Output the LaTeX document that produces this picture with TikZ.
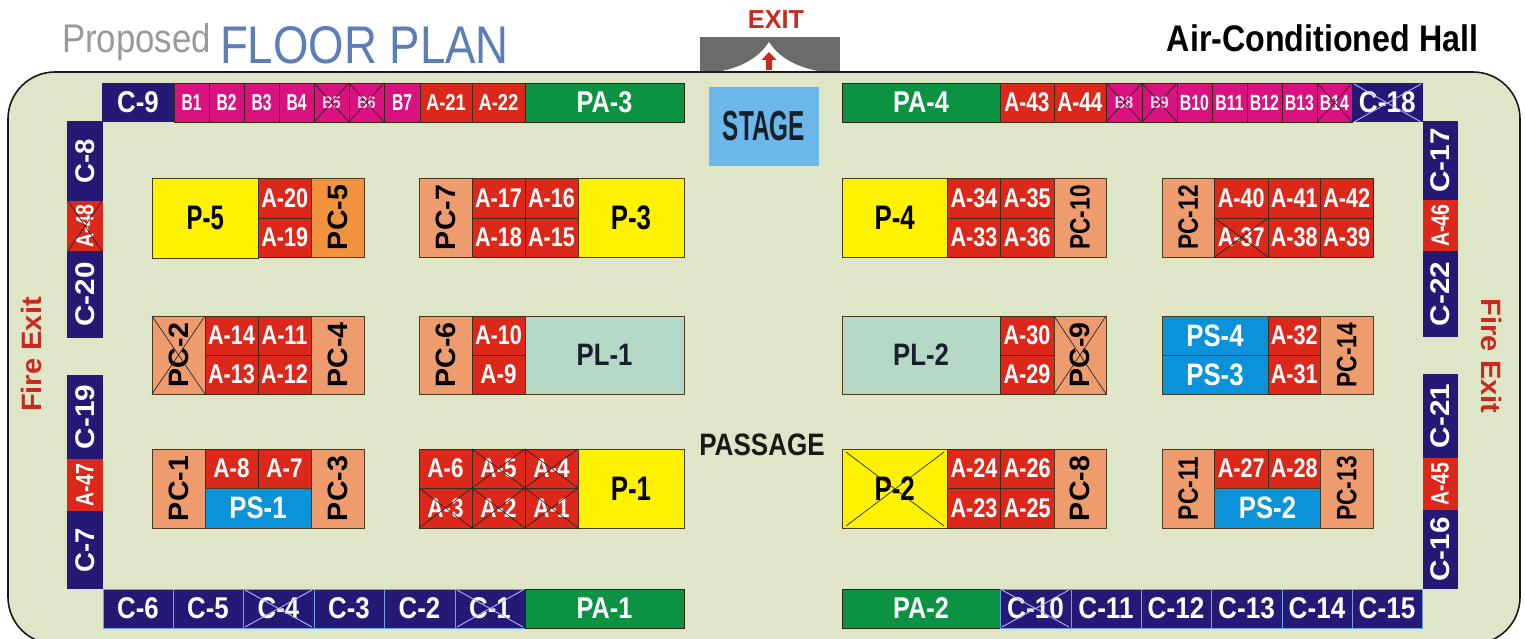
\documentclass[tikz,border=0pt]{standalone}
\usepackage{fontspec}
\usepackage{graphicx}
\setmainfont{Liberation Sans}
\definecolor{hall}{HTML}{DFE6C8}
\definecolor{cred}{HTML}{DC281B}
\definecolor{cmag}{HTML}{DA127F}
\definecolor{cgrn}{HTML}{0B9343}
\definecolor{cnavy}{HTML}{241A75}
\definecolor{cpc}{HTML}{EE9C6E}
\definecolor{cpco}{HTML}{F0923E}
\definecolor{cyel}{HTML}{FFF200}
\definecolor{cpl}{HTML}{B5D9C6}
\definecolor{cps}{HTML}{0C92D8}
\definecolor{edge}{HTML}{4A3A1E}
\definecolor{cstage}{HTML}{6CB8EA}
\definecolor{exitred}{HTML}{C92A20}
\definecolor{cink}{HTML}{15202A}
\definecolor{cfloor}{HTML}{5B7DB8}
\definecolor{clight}{HTML}{6FA0E6}
\def\xsv{1}
\tikzset{
  xs/.code={\def\xsv{#1}},
  px/.style={font=\fontsize{#1}{#1}\selectfont\bfseries},
  tag/.style={inner sep=0pt,outer sep=0pt},
  bA/.style={fill=cred,draw=edge!80!black,line width=.9pt},
  bAn/.style={fill=cred},
  bB/.style={fill=cmag,draw=edge!70!black,line width=.7pt},
  bG/.style={fill=cgrn,draw=edge!60!black,line width=.7pt},
  bN/.style={fill=cnavy},
  bNl/.style={fill=cnavy,draw=clight,line width=.8pt},
  bP/.style={fill=cyel,draw=edge,line width=.9pt},
  bC/.style={fill=cpc,draw=edge,line width=.9pt},
  bCo/.style={fill=cpco,draw=edge,line width=.9pt},
  bL/.style={fill=cpl,draw=edge,line width=.9pt},
  bS/.style={fill=cps,draw=edge,line width=.9pt},
  lAt/.style={tag,text=white,px=23,xs=.8},
  lAtw/.style={tag,text=white,px=27,xs=.77},
  lB/.style={tag,text=white,px=23,xs=.68},
  lBs/.style={tag,text=white!85!cmag,px=17,xs=.85},
  lBw/.style={tag,text=white,px=22,xs=.72},
  lPA/.style={tag,text=white,px=30,xs=.84},
  lC/.style={tag,text=white,px=30,xs=.86},
  lCw/.style={tag,text=white,px=30,xs=.87},
  lCv/.style={tag,text=white,px=27,xs=1.02,rotate=90},
  lCvw/.style={tag,text=white,px=27,xs=1.1,rotate=90},
  lAv/.style={tag,text=white,px=25,xs=.78,rotate=90},
  lA/.style={tag,text=white,px=27,xs=.8},
  lAs/.style={tag,text=white,px=27,xs=.83},
  lPC/.style={tag,text=black,px=28,xs=1.02,rotate=90},
  lPCw/.style={tag,text=black,px=28,xs=.81,rotate=90},
  lP/.style={tag,text=black,px=34,xs=.76},
  lPn/.style={tag,text=black,px=34,xs=.7},
  lPL/.style={tag,text=cink,px=31,xs=.83},
  lPS/.style={tag,text=white,px=31,xs=.83},
  xk/.style={draw=black!85,line width=.7pt},
  xl/.style={draw=white!70!blue,line width=.9pt},
}
\newcommand\cell[8]{\path[#1] (#3,#4) rectangle node[#7] (#2) {\scalebox{\xsv}[1]{#8}} (#5,#6);}
\newcommand\xmark[5]{\draw[#1] (#2,#3) -- (#4,#5) (#2,#5) -- (#4,#3);}
\begin{document}
\begin{tikzpicture}[x=1pt,y=-1pt]
\useasboundingbox (0,0) rectangle (1525,639);
\clip (0,0) rectangle (1525,639);
\fill[white] (0,0) rectangle (1525,639);
% exit canopy
\fill[black!58] (700,37) rectangle (840,73);
\fill[white] (717,72) .. controls (745,67) and (760,56) .. (769,42) .. controls (778,56) and (793,67) .. (823,72) -- cycle;
\fill[exitred] (769,52) -- (776.5,60) -- (772,60) -- (772,70) -- (766,70) -- (766,60) -- (761.5,60) -- cycle;
% hall
\draw[fill=hall,draw=black!90,line width=1.6pt,rounded corners=47pt] (8,72) rectangle (1520,644);
% titles
\node[tag,anchor=base west,font=\fontsize{40}{40}\selectfont,text=black!40] (proposed) at (62,53) {\scalebox{.87}[1]{Proposed}};
\node[tag,anchor=base west,font=\fontsize{53}{53}\selectfont,text=cfloor] (floorplan) at (220,64) {\scalebox{.86}[1]{FLOOR PLAN}};
\node[tag,px=37,text=black] (airhall) at (1322.5,38) {\scalebox{.87}[1]{Air-Conditioned Hall}};
\node[tag,px=26,text=exitred] (exitlabel) at (776,20) {\scalebox{.97}[1]{EXIT}};
% stage
\path[fill=cstage] (709,87) rectangle node[tag,px=42,text=cink] (stage) {\scalebox{.58}[1]{STAGE}} (819,166);
\node[tag,px=31,text=black!90] (passage) at (762,445) {\scalebox{.84}[1]{PASSAGE}};
\node[tag,px=28,text=exitred,rotate=90] (fireL) at (31,354.5) {\scalebox{1.04}[1]{Fire Exit}};
\node[tag,px=28,text=exitred,rotate=-90] (fireR) at (1491,356) {\scalebox{1.04}[1]{Fire Exit}};
% top row left
\cell{bN}{c9}{102}{83}{174}{122}{lC}{C-9}
\cell{bB}{b1}{174}{83}{209}{122}{lB}{B1}
\cell{bB}{b2}{209}{83}{244}{122}{lB}{B2}
\cell{bB}{b3}{244}{83}{279}{122}{lB}{B3}
\cell{bB}{b4}{279}{83}{314}{122}{lB}{B4}
\cell{bB}{b5}{314}{83}{349}{122}{lBs}{B5}
\cell{bB}{b6}{349}{83}{384}{122}{lBs}{B6}
\cell{bB}{b7}{384}{83}{420}{122}{lB}{B7}
\cell{bA}{a21}{420}{83}{472}{122}{lAt}{A-21}
\cell{bA}{a22}{472}{83}{525}{122}{lAt}{A-22}
\cell{bG}{pa3}{525}{83}{684}{122}{lPA}{PA-3}
\xmark{xk}{314}{83}{349}{122}
\xmark{xk}{349}{83}{384}{122}
% top row right
\cell{bG}{pa4}{842}{83}{1000}{122}{lPA}{PA-4}
\cell{bA}{a43}{1000}{83}{1054}{122}{lAtw}{A-43}
\cell{bA}{a44}{1054}{83}{1106}{122}{lAtw}{A-44}
\cell{bB}{b8}{1106}{83}{1142}{122}{lBs}{B8}
\cell{bB}{b9}{1142}{83}{1177}{122}{lBs}{B9}
\cell{bB}{b10}{1177}{83}{1212}{122}{lBw}{B10}
\cell{bB}{b11}{1212}{83}{1247}{122}{lBw}{B11}
\cell{bB}{b12}{1247}{83}{1282}{122}{lBw}{B12}
\cell{bB}{b13}{1282}{83}{1317}{122}{lBw}{B13}
\cell{bB}{b14}{1317}{83}{1352}{122}{lBw}{B14}
\cell{bN}{c18}{1352}{83}{1422.5}{122}{lCw}{C-18}
\xmark{xk}{1106}{83}{1142}{122}
\xmark{xk}{1142}{83}{1177}{122}
\xmark{xk}{1317}{83}{1352}{122}
\xmark{xl}{1354}{122}{1421}{84}
% left column
\cell{bN}{c8}{67}{121}{102.5}{201}{lCv}{C-8}
\cell{bAn}{a48}{67}{201}{102.5}{251}{lAv}{A-48}
\cell{bN}{c20}{67}{251}{102.5}{338}{lCvw}{C-20}
\xmark{xk}{68}{201}{102}{251}
\cell{bN}{c19}{67}{375}{102.5}{459}{lCvw}{C-19}
\cell{bAn}{a47}{67}{459}{102.5}{511}{lAv}{A-47}
\cell{bN}{c7}{67}{511}{102.5}{589}{lCv}{C-7}
% right column
\cell{bN}{c17}{1422.5}{121}{1458}{200}{lCvw}{C-17}
\cell{bAn}{a46}{1422.5}{200}{1458}{251}{lAv}{A-46}
\cell{bN}{c22}{1422.5}{251}{1458}{337}{lCvw}{C-22}
\cell{bN}{c21}{1422.5}{374}{1458}{458}{lCvw}{C-21}
\cell{bAn}{a45}{1422.5}{458}{1458}{510}{lAv}{A-45}
\cell{bN}{c16}{1422.5}{510}{1458}{589}{lCvw}{C-16}
% bottom row
\cell{bNl}{c6}{103}{589}{173}{628}{lC}{C-6}
\cell{bNl}{c5}{173}{589}{243}{628}{lC}{C-5}
\cell{bNl}{c4}{243}{589}{314}{628}{lC}{C-4}
\cell{bNl}{c3}{314}{589}{384}{628}{lC}{C-3}
\cell{bNl}{c2}{384}{589}{455}{628}{lC}{C-2}
\cell{bNl}{c1}{455}{589}{525}{628}{lC}{C-1}
\cell{bG}{pa1}{525}{589}{684}{628}{lPA}{PA-1}
\xmark{xl}{245}{590}{312}{627}
\xmark{xl}{457}{590}{523}{627}
\cell{bG}{pa2}{842}{589}{1000}{628}{lPA}{PA-2}
\cell{bNl}{c10}{1000}{589}{1071}{628}{lCw}{C-10}
\cell{bNl}{c11}{1071}{589}{1141}{628}{lCw}{C-11}
\cell{bNl}{c12}{1141}{589}{1211}{628}{lCw}{C-12}
\cell{bNl}{c13}{1211}{589}{1282}{628}{lCw}{C-13}
\cell{bNl}{c14}{1282}{589}{1352}{628}{lCw}{C-14}
\cell{bNl}{c15}{1352}{589}{1422}{628}{lCw}{C-15}
\xmark{xl}{1002}{590}{1069}{627}
% row 1
\cell{bP}{p5}{152}{178}{258.5}{258}{lPn}{P-5}
\cell{bA}{a20}{258.5}{178}{311}{218}{lA}{A-20}
\cell{bA}{a19}{258.5}{218}{311}{257}{lA}{A-19}
\cell{bCo}{pc5}{311}{178}{364}{257}{lPC}{PC-5}
\cell{bC}{pc7}{419}{178}{472}{257}{lPC}{PC-7}
\cell{bA}{a17}{472}{178}{525}{218}{lA}{A-17}
\cell{bA}{a16}{525}{178}{578}{218}{lA}{A-16}
\cell{bA}{a18}{472}{218}{525}{257}{lA}{A-18}
\cell{bA}{a15}{525}{218}{578}{257}{lA}{A-15}
\cell{bP}{p3}{578}{178}{684}{257}{lP}{P-3}
\cell{bP}{p4}{842}{178}{947.5}{257}{lP}{P-4}
\cell{bA}{a34}{947.5}{178}{1000.5}{218}{lA}{A-34}
\cell{bA}{a35}{1000.5}{178}{1054}{218}{lA}{A-35}
\cell{bA}{a33}{947.5}{218}{1000.5}{257}{lA}{A-33}
\cell{bA}{a36}{1000.5}{218}{1054}{257}{lA}{A-36}
\cell{bC}{pc10}{1054}{178}{1106}{257}{lPCw}{PC-10}
\cell{bC}{pc12}{1162}{178}{1214.5}{257}{lPCw}{PC-12}
\cell{bA}{a40}{1214.5}{178}{1268}{218}{lA}{A-40}
\cell{bA}{a41}{1268}{178}{1320.5}{218}{lA}{A-41}
\cell{bA}{a42}{1320.5}{178}{1373}{218}{lA}{A-42}
\cell{bA}{a37}{1214.5}{218}{1268}{257}{lA}{A-37}
\cell{bA}{a38}{1268}{218}{1320.5}{257}{lA}{A-38}
\cell{bA}{a39}{1320.5}{218}{1373}{257}{lA}{A-39}
\xmark{xk}{1214.5}{218}{1268}{257}
% row 2
\cell{bC}{pc2}{152}{316}{205}{394}{lPC}{PC-2}
\cell{bA}{a14}{205}{316}{258}{355}{lA}{A-14}
\cell{bA}{a11}{258}{316}{311}{355}{lA}{A-11}
\cell{bA}{a13}{205}{355}{258}{394}{lA}{A-13}
\cell{bA}{a12}{258}{355}{311}{394}{lA}{A-12}
\cell{bC}{pc4}{311}{316}{364}{394}{lPC}{PC-4}
\xmark{xk}{152}{316}{205}{394}
\cell{bC}{pc6}{419}{316}{472}{394}{lPC}{PC-6}
\cell{bA}{a10}{472}{316}{525}{355}{lA}{A-10}
\cell{bA}{a9}{472}{355}{525}{394}{lAs}{A-9}
\cell{bL}{pl1}{525}{316}{684}{394}{lPL}{PL-1}
\cell{bL}{pl2}{842}{316}{1000}{394}{lPL}{PL-2}
\cell{bA}{a30}{1000}{316}{1054}{355}{lA}{A-30}
\cell{bA}{a29}{1000}{355}{1054}{394}{lA}{A-29}
\cell{bC}{pc9}{1054}{316}{1106}{394}{lPC}{PC-9}
\xmark{xk}{1054}{316}{1106}{394}
\cell{bS}{ps4}{1162}{316}{1268}{355}{lPS}{PS-4}
\cell{bS}{ps3}{1162}{355}{1268}{394}{lPS}{PS-3}
\cell{bA}{a32}{1268}{316}{1320.5}{355}{lA}{A-32}
\cell{bA}{a31}{1268}{355}{1320.5}{394}{lA}{A-31}
\cell{bC}{pc14}{1320.5}{316}{1373}{394}{lPCw}{PC-14}
% row 3
\cell{bC}{pc1}{152}{449}{205}{528}{lPC}{PC-1}
\cell{bA}{a8}{205}{449}{258}{488}{lAs}{A-8}
\cell{bA}{a7}{258}{449}{311}{488}{lAs}{A-7}
\cell{bS}{ps1}{205}{488}{311}{528}{lPS}{PS-1}
\cell{bC}{pc3}{311}{449}{364}{528}{lPC}{PC-3}
\cell{bA}{a6}{419}{449}{472}{488}{lAs}{A-6}
\cell{bA}{a5}{472}{449}{525}{488}{lAs}{A-5}
\cell{bA}{a4}{525}{449}{578}{488}{lAs}{A-4}
\cell{bA}{a3}{419}{488}{472}{528}{lAs}{A-3}
\cell{bA}{a2}{472}{488}{525}{528}{lAs}{A-2}
\cell{bA}{a1}{525}{488}{578}{528}{lAs}{A-1}
\cell{bP}{p1}{578}{449}{684}{528}{lP}{P-1}
\xmark{xk}{472}{449}{525}{488}
\xmark{xk}{525}{449}{578}{488}
\xmark{xk}{419}{488}{472}{528}
\xmark{xk}{472}{488}{525}{528}
\xmark{xk}{525}{488}{578}{528}
\cell{bP}{p2}{842}{449}{947.5}{528}{lP}{P-2}
\xmark{xk}{846}{452}{944}{526}
\cell{bA}{a24}{947.5}{449}{1000.5}{488}{lA}{A-24}
\cell{bA}{a26}{1000.5}{449}{1054}{488}{lA}{A-26}
\cell{bA}{a23}{947.5}{488}{1000.5}{528}{lA}{A-23}
\cell{bA}{a25}{1000.5}{488}{1054}{528}{lA}{A-25}
\cell{bC}{pc8}{1054}{449}{1106}{528}{lPC}{PC-8}
\cell{bC}{pc11}{1162}{449}{1214.5}{528}{lPCw}{PC-11}
\cell{bA}{a27}{1214.5}{449}{1268}{488}{lA}{A-27}
\cell{bA}{a28}{1268}{449}{1320.5}{488}{lA}{A-28}
\cell{bS}{ps2}{1214.5}{488}{1320.5}{528}{lPS}{PS-2}
\cell{bC}{pc13}{1320.5}{449}{1373}{528}{lPCw}{PC-13}
\end{tikzpicture}
\end{document}
